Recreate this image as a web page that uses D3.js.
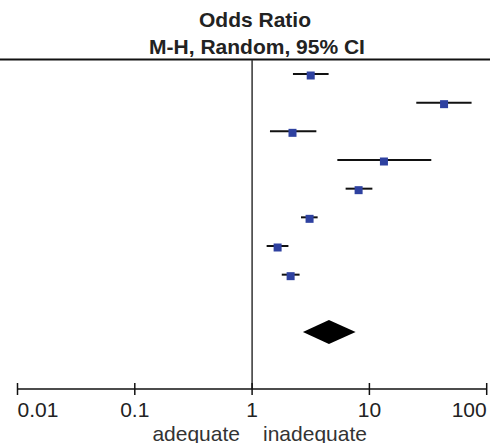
<!DOCTYPE html>
<html>
<head>
<meta charset="utf-8">
<script src="https://cdn.jsdelivr.net/npm/d3@7"></script>
<style>
  body { margin: 0; background: #fff; }
  svg { display: block; font-family: "Liberation Sans", Arial, sans-serif; }
</style>
</head>
<body>
<div id="chart"></div>
<script>
// study estimates (odds ratio, 95% CI)
var oddsRatio = [3.16, 43.3, 2.21, 13.3, 8.09, 3.09, 1.65, 2.13]
var ciLow     = [2.23, 25.1, 1.42, 5.33, 6.27, 2.61, 1.33, 1.79]
var ciHigh    = [4.49, 74.3, 3.53, 33.7, 10.6, 3.62, 2.04, 2.54]
// pooled estimate
var pooled = [4.52, 2.71, 7.63]
var tickValues = [0.01, 0.1, 1, 10, 100]
var tickLabels = ['0.01', '0.1', '1', '10', '100']
var favours = ['adequate', 'inadequate']

var W = 490, H = 443

var svg = d3.select('#chart').append('svg')
  .attr('width', W)
  .attr('height', H)

var x = d3.scaleLog().domain([0.01, 100]).range([17.5, 486.7])
var y = d3.scaleLinear().domain([0, 9]).range([74, 332])

// header
svg.append('text').attr('x', 255).attr('y', 26.5)
  .attr('text-anchor', 'middle').style('font-weight', 'bold')
  .style('font-size', '21px').style('fill', '#222')
  .text('Odds Ratio')
svg.append('text').attr('x', 257).attr('y', 53.5)
  .attr('text-anchor', 'middle').style('font-weight', 'bold')
  .style('font-size', '21px').style('fill', '#222')
  .text('M-H, Random, 95% CI')

svg.append('line')
  .attr('x1', 0).attr('x2', W).attr('y1', 59.5).attr('y2', 59.5)
  .style('stroke', '#111').style('stroke-width', 2)

// line of no effect
svg.append('line')
  .attr('x1', x(1)).attr('x2', x(1)).attr('y1', 60).attr('y2', 389)
  .style('stroke', '#333').style('stroke-width', 1.5)

// CI whiskers
var rows = svg.append('g').attr('class', 'rows')
oddsRatio.forEach((e, i, a) => {
  rows.append('line')
    .attr('x1', x(ciLow[i])).attr('x2', x(ciHigh[i]))
    .attr('y1', y(i)).attr('y2', y(i))
    .style('stroke', '#111').style('stroke-width', 2)
  rows.append('rect')
    .attr('x', x(e) - 4).attr('y', y(i) - 2.5)
    .attr('width', 8).attr('height', 8)
    .style('fill', '#2e41a0')
})

// pooled diamond
var py = y(9)
svg.append('path')
  .attr('d', 'M' + x(pooled[1]) + ',' + py +
             'L' + x(pooled[0]) + ',' + (py - 12) +
             'L' + x(pooled[2]) + ',' + py +
             'L' + x(pooled[0]) + ',' + (py + 12) + 'Z')
  .style('fill', '#000')

// axis
var axis = svg.append('g').attr('class', 'axis')
axis.append('line')
  .attr('x1', x(0.01)).attr('x2', x(100)).attr('y1', 389).attr('y2', 389)
  .style('stroke', '#111').style('stroke-width', 1.5)
tickValues.forEach((e, i, a) => {
  axis.append('line')
    .attr('x1', x(e)).attr('x2', x(e)).attr('y1', 383).attr('y2', 395)
    .style('stroke', '#111').style('stroke-width', 1.5)
  axis.append('text')
    .attr('x', x(e)).attr('y', 417)
    .attr('text-anchor', i === 0 ? 'start' : (i === a.length - 1 ? 'end' : 'middle'))
    .style('font-size', '21px').style('fill', '#222')
    .text(tickLabels[i])
})

svg.append('text').attr('x', 240).attr('y', 440.5)
  .attr('text-anchor', 'end').style('font-size', '21px').style('fill', '#333')
  .text(favours[0])
svg.append('text').attr('x', 263).attr('y', 440.5)
  .attr('text-anchor', 'start').style('font-size', '21px').style('fill', '#333')
  .text(favours[1])
</script>
</body>
</html>
